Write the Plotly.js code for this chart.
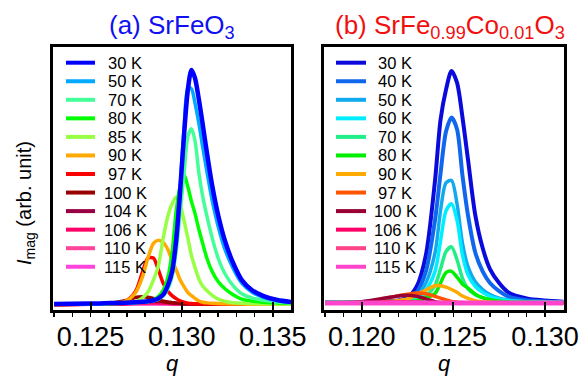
<!DOCTYPE html>
<html><head><meta charset="utf-8">
<script src="https://cdn.plot.ly/plotly-3.0.1.min.js"></script>
<style>html,body{margin:0;padding:0;background:#fff}#chart{width:586px;height:376px}</style>
</head><body><div id="chart"></div>
<script>
// ---------- Panel (a) SrFeO3 ----------
const Q_A = [0.1230, 0.1250, 0.1261, 0.1269, 0.12745, 0.12785, 0.12815, 0.12845, 0.1287, 0.1290,
             0.12925, 0.12947, 0.1297, 0.1299, 0.13013, 0.13035, 0.13054, 0.13073, 0.13095, 0.13116,
             0.13138, 0.13166, 0.1320, 0.13236, 0.1328, 0.1333, 0.13385, 0.1345, 0.13525, 0.1360];
const TEMPS_A = ['30 K', '50 K', '70 K', '80 K', '85 K', '90 K', '97 K', '100 K', '104 K', '106 K', '110 K', '115 K'];
const COLORS_A = ['#0000FF', '#00AAFF', '#44FF99', '#00FF00', '#99FF44', '#FFAA00', '#FF0000', '#990000', '#990044', '#FF0066', '#FF4499', '#FF44DD'];
const A_30K  = [0.004, 0.006, 0.008, 0.010, 0.012, 0.014, 0.016, 0.020, 0.027, 0.045, 0.085, 0.14, 0.277, 0.468, 0.723, 0.923, 1.0, 0.966, 0.872, 0.766, 0.651, 0.515, 0.383, 0.277, 0.183, 0.106, 0.064, 0.038, 0.021, 0.013];
const A_50K  = [0.003, 0.005, 0.007, 0.009, 0.011, 0.013, 0.015, 0.019, 0.026, 0.045, 0.085, 0.145, 0.29, 0.48, 0.75, 0.925, 0.92, 0.86, 0.77, 0.67, 0.57, 0.45, 0.335, 0.24, 0.16, 0.093, 0.055, 0.032, 0.018, 0.012];
const A_70K  = [0.003, 0.004, 0.006, 0.008, 0.010, 0.012, 0.014, 0.018, 0.024, 0.04, 0.07, 0.12, 0.23, 0.38, 0.56, 0.72, 0.75, 0.70, 0.56, 0.46, 0.38, 0.29, 0.20, 0.135, 0.085, 0.048, 0.03, 0.02, 0.013, 0.009];
const A_80K  = [0.003, 0.005, 0.007, 0.009, 0.011, 0.013, 0.015, 0.022, 0.035, 0.065, 0.12, 0.22, 0.40, 0.50, 0.555, 0.50, 0.44, 0.39, 0.32, 0.26, 0.20, 0.145, 0.10, 0.07, 0.045, 0.025, 0.017, 0.012, 0.009, 0.007];
const A_85K  = [0.003, 0.004, 0.006, 0.009, 0.013, 0.03, 0.055, 0.106, 0.16, 0.29, 0.38, 0.43, 0.46, 0.43, 0.36, 0.28, 0.21, 0.16, 0.11, 0.08, 0.062, 0.042, 0.025, 0.016, 0.010, 0.007, 0.006, 0.005, 0.004, 0.004];
const A_90K  = [0.002, 0.004, 0.007, 0.015, 0.05, 0.12, 0.20, 0.262, 0.275, 0.265, 0.235, 0.19, 0.15, 0.11, 0.078, 0.052, 0.04, 0.028, 0.017, 0.012, 0.009, 0.007, 0.006, 0.005, 0.004, 0.004, 0.003, 0.003, 0.003, 0.003];
const A_97K  = [0.002, 0.004, 0.007, 0.015, 0.055, 0.14, 0.20, 0.20, 0.155, 0.09, 0.058, 0.04, 0.027, 0.018, 0.012, 0.008, 0.006, 0.005, 0.005, 0.004, 0.004, 0.004, 0.003, 0.003, 0.003, 0.003, 0.003, 0.003, 0.003, 0.003];
const A_100K = [0.002, 0.004, 0.008, 0.018, 0.032, 0.035, 0.033, 0.028, 0.022, 0.016, 0.012, 0.010, 0.008, 0.007, 0.006, 0.005, 0.005, 0.004, 0.004, 0.004, 0.004, 0.003, 0.003, 0.003, 0.003, 0.003, 0.003, 0.003, 0.003, 0.003];
const A_104K = [0.002, 0.003, 0.004, 0.006, 0.010, 0.013, 0.015, 0.016, 0.016, 0.014, 0.012, 0.010, 0.008, 0.007, 0.006, 0.005, 0.005, 0.004, 0.004, 0.004, 0.004, 0.003, 0.003, 0.003, 0.003, 0.003, 0.003, 0.003, 0.003, 0.003];
const A_106K = [0.002, 0.003, 0.004, 0.005, 0.007, 0.008, 0.009, 0.009, 0.009, 0.008, 0.007, 0.006, 0.005, 0.005, 0.004, 0.004, 0.004, 0.004, 0.003, 0.003, 0.003, 0.003, 0.003, 0.003, 0.003, 0.003, 0.003, 0.003, 0.003, 0.003];
const A_110K = [0.002, 0.003, 0.004, 0.005, 0.006, 0.006, 0.006, 0.006, 0.006, 0.005, 0.005, 0.004, 0.004, 0.004, 0.004, 0.003, 0.003, 0.003, 0.003, 0.003, 0.003, 0.003, 0.003, 0.003, 0.003, 0.003, 0.003, 0.003, 0.003, 0.003];
const A_115K = [0.002, 0.003, 0.003, 0.004, 0.004, 0.004, 0.004, 0.004, 0.004, 0.004, 0.004, 0.004, 0.003, 0.003, 0.003, 0.003, 0.003, 0.003, 0.003, 0.003, 0.003, 0.003, 0.003, 0.003, 0.003, 0.003, 0.003, 0.003, 0.003, 0.003];
const SERIES_A = [A_30K, A_50K, A_70K, A_80K, A_85K, A_90K, A_97K, A_100K, A_104K, A_106K, A_110K, A_115K];
const TICKS_A = [0.125, 0.130, 0.135];
const TICKTEXT_A = ['0.125', '0.130', '0.135'];

// ---------- Panel (b) SrFe0.99Co0.01O3 ----------
const Q_B = [0.1180, 0.1200, 0.1210, 0.1220, 0.1225, 0.1230, 0.1235, 0.1240, 0.1243, 0.1246, 0.1249,
             0.1252, 0.1255, 0.1258, 0.1262, 0.1266, 0.1270, 0.1275, 0.1280, 0.1290, 0.1300, 0.1310];
const TEMPS_B = ['30 K', '40 K', '50 K', '60 K', '70 K', '80 K', '90 K', '97 K', '100 K', '106 K', '110 K', '115 K'];
const COLORS_B = ['#0A0ADD', '#1166EE', '#11AAEE', '#00EEFF', '#22EE88', '#00EE00', '#FFAA00', '#FF5500', '#990033', '#FF0066', '#FF4488', '#FF44CC'];
const B_30K  = [0.008, 0.009, 0.010, 0.015, 0.028, 0.075, 0.21, 0.53, 0.79, 0.92, 1.0, 0.95, 0.80, 0.62, 0.38, 0.24, 0.15, 0.09, 0.05, 0.024, 0.015, 0.010];
const B_40K  = [0.008, 0.009, 0.010, 0.012, 0.022, 0.05, 0.14, 0.36, 0.56, 0.74, 0.80, 0.75, 0.55, 0.38, 0.22, 0.14, 0.09, 0.055, 0.032, 0.016, 0.011, 0.008];
const B_50K  = [0.007, 0.008, 0.009, 0.010, 0.015, 0.035, 0.09, 0.22, 0.40, 0.52, 0.53, 0.43, 0.26, 0.16, 0.095, 0.062, 0.04, 0.025, 0.017, 0.010, 0.008, 0.007];
const B_60K  = [0.007, 0.008, 0.009, 0.010, 0.013, 0.025, 0.06, 0.14, 0.27, 0.40, 0.43, 0.36, 0.21, 0.125, 0.075, 0.05, 0.033, 0.022, 0.015, 0.009, 0.007, 0.006];
const B_70K  = [0.006, 0.007, 0.008, 0.009, 0.010, 0.017, 0.035, 0.08, 0.15, 0.225, 0.245, 0.19, 0.11, 0.065, 0.04, 0.027, 0.018, 0.012, 0.009, 0.007, 0.006, 0.005];
const B_80K  = [0.006, 0.007, 0.008, 0.009, 0.010, 0.012, 0.025, 0.045, 0.09, 0.135, 0.14, 0.115, 0.085, 0.068, 0.042, 0.027, 0.018, 0.012, 0.009, 0.007, 0.006, 0.005];
const B_90K  = [0.003, 0.004, 0.008, 0.015, 0.022, 0.04, 0.06, 0.078, 0.078, 0.072, 0.062, 0.05, 0.034, 0.024, 0.014, 0.010, 0.008, 0.006, 0.005, 0.005, 0.004, 0.004];
const B_97K  = [0.003, 0.007, 0.020, 0.036, 0.042, 0.047, 0.044, 0.033, 0.025, 0.017, 0.011, 0.008, 0.006, 0.005, 0.005, 0.004, 0.004, 0.004, 0.004, 0.004, 0.004, 0.004];
const B_100K = [0.003, 0.010, 0.022, 0.034, 0.038, 0.033, 0.022, 0.010, 0.006, 0.004, 0.004, 0.004, 0.004, 0.004, 0.004, 0.004, 0.004, 0.004, 0.004, 0.004, 0.004, 0.004];
const B_106K = [0.004, 0.005, 0.007, 0.009, 0.009, 0.008, 0.006, 0.005, 0.004, 0.004, 0.004, 0.004, 0.004, 0.004, 0.004, 0.004, 0.004, 0.004, 0.004, 0.004, 0.004, 0.004];
const B_110K = [0.004, 0.004, 0.005, 0.006, 0.006, 0.006, 0.005, 0.004, 0.004, 0.004, 0.004, 0.004, 0.004, 0.004, 0.004, 0.004, 0.004, 0.004, 0.004, 0.004, 0.004, 0.004];
const B_115K = [0.004, 0.004, 0.004, 0.004, 0.004, 0.004, 0.004, 0.004, 0.004, 0.004, 0.004, 0.004, 0.004, 0.004, 0.004, 0.004, 0.004, 0.004, 0.004, 0.004, 0.004, 0.004];
const SERIES_B = [B_30K, B_40K, B_50K, B_60K, B_70K, B_80K, B_90K, B_97K, B_100K, B_106K, B_110K, B_115K];
const TICKS_B = [0.120, 0.125, 0.130];
const TICKTEXT_B = ['0.120', '0.125', '0.130'];

const FONT = 'Liberation Sans, Arial, Helvetica, sans-serif';
const W = 586, H = 376;

const traces = [];
// panel (a): 30 K drawn last (on top)
for (let i = SERIES_A.length - 1; i >= 0; i--) {
  traces.push({x: Q_A, y: SERIES_A[i], xaxis: 'x', yaxis: 'y', type: 'scatter', mode: 'lines',
    name: TEMPS_A[i], showlegend: false, hoverinfo: 'skip',
    line: {color: COLORS_A[i], width: i === 0 ? 4.5 : 3.5, shape: 'spline', smoothing: 0.8}});
}
// panel (b): 115 K drawn last (on top)
for (let i = 0; i < SERIES_B.length; i++) {
  traces.push({x: Q_B, y: SERIES_B[i], xaxis: 'x2', yaxis: 'y2', type: 'scatter', mode: 'lines',
    name: TEMPS_B[i], showlegend: false, hoverinfo: 'skip',
    line: {color: COLORS_B[i], width: i === 11 ? 5 : (i < 2 ? 4 : 3.5), shape: 'spline', smoothing: 0.8}});
}

const px2fx = p => p / W;
const px2fy = p => (H - p) / H;

function xaxisDef(dom, range, tv, tt) {
  return {domain: dom, range: range, tickmode: 'array', tickvals: tv, ticktext: tt,
    ticks: 'inside', ticklen: 8, tickwidth: 2, tickcolor: '#000',
    showline: true, linewidth: 3, linecolor: '#000', mirror: true,
    showgrid: false, zeroline: false, fixedrange: true,
    tickfont: {family: FONT, size: 27, color: '#000'}, ticklabelstandoff: 1,
    minor: {tickmode: 'linear', tick0: 0.12, dtick: 0.001, ticks: 'outside', ticklen: 4, tickwidth: 1.5, tickcolor: '#000', showgrid: false}};
}
function yaxisDef(dom, range, anchor) {
  return {domain: dom, range: range, anchor: anchor, showticklabels: false, ticks: '',
    showline: true, linewidth: 3, linecolor: '#000', mirror: true,
    showgrid: false, zeroline: false, fixedrange: true};
}

const yDom = [px2fy(310), px2fy(47)];
const layout = {
  width: W, height: H, margin: {l: 0, r: 0, t: 0, b: 0},
  paper_bgcolor: '#fff', plot_bgcolor: '#fff', showlegend: false,
  font: {family: FONT, color: '#000'},
  xaxis: Object.assign(xaxisDef([px2fx(53), px2fx(291)], [0.12294, 0.1360], TICKS_A, TICKTEXT_A), {anchor: 'y'}),
  yaxis: yaxisDef(yDom, [-0.0213, 1.098], 'x'),
  xaxis2: Object.assign(xaxisDef([px2fx(324), px2fx(564)], [0.11794, 0.13104], TICKS_B, TICKTEXT_B), {anchor: 'y2'}),
  yaxis2: yaxisDef(yDom, [-0.0258, 1.103], 'x2'),
  annotations: [], shapes: []
};

// titles
layout.annotations.push({xref: 'paper', yref: 'paper', x: px2fx(172), y: px2fy(27), xanchor: 'center', yanchor: 'middle',
  text: '(a) SrFeO<sub>3</sub>', showarrow: false, font: {family: FONT, size: 26, color: '#1010F0'}});
layout.annotations.push({xref: 'paper', yref: 'paper', x: px2fx(450), y: px2fy(27), xanchor: 'center', yanchor: 'middle',
  text: '(b) SrFe<sub>0.99</sub>Co<sub>0.01</sub>O<sub>3</sub>', showarrow: false, font: {family: FONT, size: 26, color: '#F01010'}});
// axis titles
['x domain', 'x2 domain'].forEach(xr => layout.annotations.push({xref: xr, yref: 'paper', x: 0.5, y: px2fy(363.5),
  xanchor: 'center', yanchor: 'middle', text: '<i>q</i>', showarrow: false, font: {family: FONT, size: 22, color: '#000'}}));
layout.annotations.push({xref: 'paper', yref: 'paper', x: px2fx(25), y: px2fy(203), xanchor: 'center', yanchor: 'middle',
  textangle: -90, text: '<i>I</i><sub>mag</sub> (arb. unit)', showarrow: false, font: {family: FONT, size: 20, color: '#000'}});

// legends (line sample + centred label), one per panel
function addLegend(xr, yr, temps, colors, lx0, lx1, tx, x0, x1) {
  const w = x1 - x0;
  temps.forEach((t, i) => {
    const py = 62.7 + 18.55 * i;
    const fy = (310 - py) / 263;
    layout.shapes.push({type: 'line', xref: xr, yref: yr, x0: (lx0 - x0) / w, x1: (lx1 - x0) / w, y0: fy, y1: fy,
      line: {color: colors[i], width: 4}});
    layout.annotations.push({xref: xr, yref: yr, x: (tx - x0) / w, y: fy, xanchor: 'center', yanchor: 'middle',
      text: t, showarrow: false, font: {family: FONT, size: 16.5, color: '#000'}});
  });
}
addLegend('x domain', 'y domain', TEMPS_A, COLORS_A, 66, 95, 125, 53, 291);
addLegend('x2 domain', 'y2 domain', TEMPS_B, COLORS_B, 336, 366, 395, 324, 564);

Plotly.newPlot('chart', traces, layout, {staticPlot: true, displayModeBar: false});
</script>
</body></html>
